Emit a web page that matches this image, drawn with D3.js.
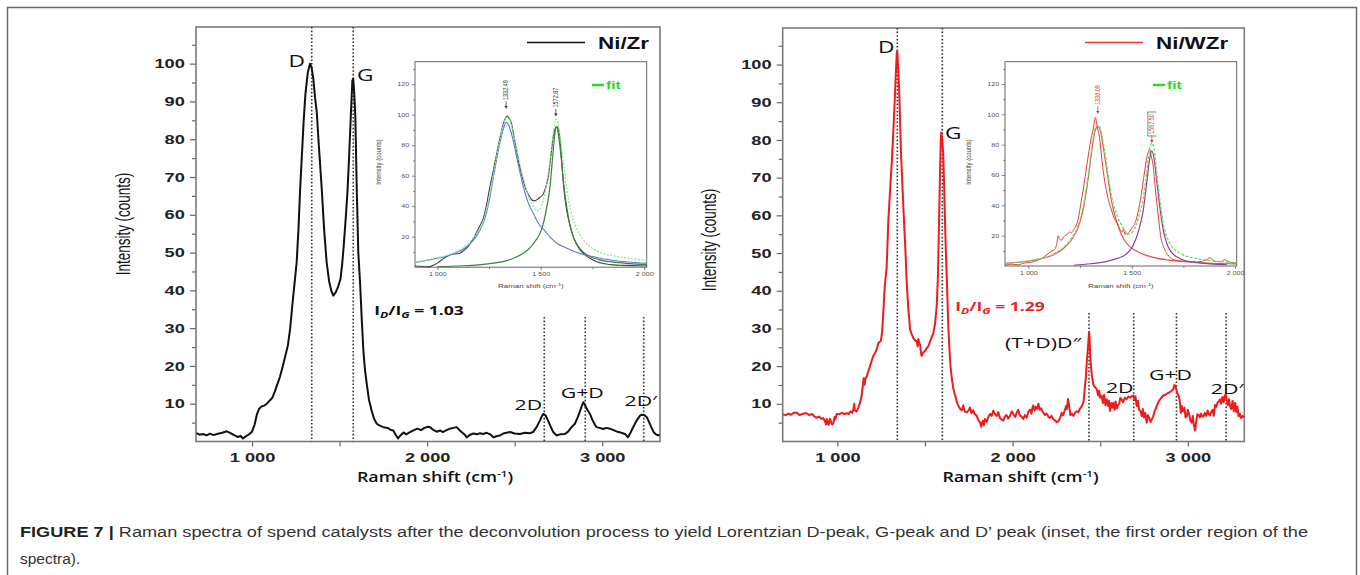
<!DOCTYPE html>
<html>
<head>
<meta charset="utf-8">
<script src="https://cdn.jsdelivr.net/npm/d3@7"></script>
<style>
body { margin: 0; background: #fff; }
svg { display: block; }
</style>
</head>
<body>
<svg id="fig" width="1360" height="575"></svg>
<script>
// Raman spectra: [shift cm-1, intensity counts]
var niZrSpectrum = [[683,2.2],[700,1.8],[720,2.0],[740,1.6],[760,2.1],[780,1.7],[800,2.0],[830,2.3],[855,2.7],[875,2.3],[900,1.6],[920,1.2],[935,1.5],[948,0.8],[962,1.3],[980,1.8],[1000,2.6],[1015,4.5],[1028,7.2],[1040,8.6],[1055,9.3],[1070,9.5],[1085,10.0],[1100,10.8],[1115,11.5],[1130,13.2],[1145,15.2],[1160,17.2],[1175,19.8],[1190,22.6],[1205,25.5],[1218,30],[1230,36],[1243,42],[1255,47.5],[1265,56],[1274,66],[1285,76],[1295,85],[1305,92],[1318,97.5],[1331,100],[1340,99],[1350,96],[1360,91],[1370,87],[1382,78],[1398,67],[1412,56],[1426,47.5],[1440,42.5],[1452,40],[1464,38.6],[1478,39.5],[1492,41],[1505,43],[1515,47],[1524,52],[1535,59],[1545,66],[1555,76],[1565,87],[1573,95.5],[1578,96],[1584,92],[1590,86],[1598,67],[1607,50],[1617,42],[1627,32],[1636,24],[1645,19],[1655,15.3],[1668,11],[1683,8.2],[1697,6],[1712,4.7],[1730,4.2],[1750,3.8],[1775,3.6],[1790,3.1],[1807,2.9],[1820,1.8],[1834,0.8],[1848,1.6],[1865,2.4],[1880,1.9],[1902,2.5],[1925,3.0],[1945,3.4],[1965,3.0],[1985,3.6],[2005,3.9],[2016,3.8],[2035,3.1],[2055,2.6],[2075,2.9],[2090,2.5],[2110,3.0],[2130,3.4],[2150,3.6],[2169,3.8],[2185,3.0],[2200,2.4],[2215,1.8],[2226,1.1],[2245,1.8],[2265,2.1],[2285,1.9],[2302,2.2],[2320,2.0],[2340,2.3],[2360,1.9],[2378,1.1],[2395,1.4],[2416,1.6],[2440,2.2],[2460,2.4],[2473,2.5],[2500,2.1],[2530,2.0],[2560,2.3],[2587,2.2],[2605,2.5],[2625,3.8],[2645,5.6],[2656,6.8],[2664,7.3],[2675,7.0],[2690,5.6],[2705,4.0],[2720,2.5],[2740,1.6],[2760,1.9],[2787,2.0],[2805,2.6],[2825,3.8],[2844,4.7],[2860,6.4],[2875,8.3],[2885,9.6],[2892,10.4],[2902,9.6],[2915,8.4],[2930,7.3],[2945,5.6],[2960,4.3],[2968,3.8],[2985,3.6],[3005,3.3],[3025,3.6],[3044,3.4],[3065,3.0],[3085,2.6],[3105,2.4],[3130,2.0],[3147,1.1],[3160,2.2],[3175,3.6],[3187,4.7],[3200,5.8],[3215,6.8],[3225,7.1],[3240,7.0],[3255,6.4],[3265,5.4],[3280,3.8],[3295,2.4],[3310,1.8],[3328,1.6]];

var niWZrSpectrum = [[690,7.2],[705,7.0],[720,7.4],[735,7.1],[750,7.6],[768,7.6],[785,7.0],[800,7.3],[815,7.5],[825,7.5],[840,7.0],[855,7.3],[870,6.6],[882,6.3],[895,6.6],[910,6.0],[920,6.2],[930,5.3],[935,4.5],[939,6.0],[945,5.1],[950,4.4],[958,6.0],[965,5.0],[971,4.5],[977,4.8],[984,6.5],[990,6.0],[996,7.3],[1010,7.2],[1025,7.6],[1040,7.3],[1053,7.5],[1065,7.3],[1075,8.0],[1085,7.6],[1091,8.5],[1096,10.0],[1100,8.2],[1110,8.0],[1120,9.0],[1129,10.3],[1138,12.0],[1145,14.8],[1150,16.8],[1155,15.0],[1162,17.0],[1167,17.2],[1176,18.5],[1186,20],[1196,21.5],[1205,22.7],[1215,23.5],[1224,24.4],[1233,26.0],[1240,26.4],[1248,26.6],[1255,29],[1262,34],[1270,41],[1281,46],[1291,58.8],[1300,66],[1310,73.8],[1318,81],[1325,88],[1333,97],[1339,103],[1342,103.5],[1347,99],[1352,94],[1358,85],[1363,76.6],[1372,67],[1380,58.8],[1388,51],[1395,43],[1405,35],[1415,29.7],[1424,28.5],[1433,27.5],[1443,26.8],[1453,26.6],[1458,25.2],[1462,27.2],[1468,26.0],[1472,25.7],[1477,23.5],[1481,22.7],[1490,23.6],[1500,24],[1510,24.8],[1519,25.3],[1533,27],[1548,28.8],[1558,31.5],[1567,36],[1574,44],[1580,58],[1586,72],[1590,80],[1593,82],[1598,80],[1604,76.6],[1609,68],[1614,58.8],[1620,49],[1624,43.8],[1633,30.7],[1640,24],[1647,19.3],[1655,16],[1662,14],[1668,12.8],[1675,11.8],[1681,10.5],[1690,9.5],[1700,8.7],[1710,8.3],[1718,9.6],[1726,8.0],[1738,7.7],[1748,8.2],[1757,9.0],[1765,7.5],[1775,8.3],[1785,7.2],[1795,6.8],[1805,5.6],[1815,5.0],[1820,3.9],[1824,4.6],[1830,5.5],[1836,4.3],[1843,6.0],[1852,5.2],[1860,6.4],[1871,7.3],[1880,6.8],[1890,8.2],[1898,7.4],[1909,6.8],[1918,7.8],[1928,6.2],[1938,5.8],[1947,5.5],[1955,6.6],[1965,7.0],[1975,6.1],[1985,6.8],[1995,8.0],[2005,7.2],[2015,6.5],[2023,7.6],[2032,8.4],[2040,7.0],[2050,6.6],[2061,6.0],[2070,7.0],[2080,6.3],[2090,7.9],[2099,8.5],[2108,7.4],[2113,9.0],[2118,9.6],[2125,8.2],[2133,9.2],[2140,8.6],[2147,10.0],[2155,8.4],[2163,8.8],[2175,7.6],[2185,7.0],[2195,7.4],[2205,6.5],[2213,6.3],[2222,6.8],[2232,5.9],[2242,5.6],[2252,5.1],[2262,5.4],[2272,6.4],[2280,7.6],[2288,7.0],[2298,8.3],[2305,9.4],[2310,8.6],[2316,11.3],[2322,9.5],[2330,7.0],[2338,7.4],[2347,6.8],[2356,7.6],[2366,8.0],[2375,7.8],[2385,8.8],[2395,9.4],[2405,10.6],[2413,14.8],[2418,17],[2423,21],[2430,25],[2436,29],[2439,27.5],[2443,23],[2447,20],[2453,17.2],[2460,15.2],[2470,14.4],[2480,13.9],[2488,12.2],[2494,13.5],[2500,11.6],[2508,12.1],[2515,10.2],[2522,12.4],[2530,9.6],[2537,11.2],[2545,9.4],[2550,10.8],[2556,8.1],[2563,10.2],[2570,9.0],[2575,10.3],[2582,8.4],[2588,10.6],[2594,8.8],[2600,9.6],[2608,10.0],[2615,11.6],[2622,11.2],[2630,10.4],[2640,11.6],[2650,11.2],[2660,11.9],[2670,11.6],[2680,12.0],[2689,12.2],[2695,11.0],[2701,12.0],[2708,9.4],[2715,10.8],[2722,8.4],[2730,8.0],[2737,6.7],[2743,8.6],[2750,6.4],[2757,7.6],[2765,5.0],[2772,7.0],[2780,6.2],[2787,5.2],[2794,5.8],[2802,6.6],[2810,8.0],[2822,9.4],[2835,10.8],[2848,11.6],[2860,12.2],[2872,12.4],[2885,12.8],[2898,13.1],[2910,13.6],[2918,14.0],[2923,15.0],[2927,14.8],[2932,14.2],[2938,13.0],[2946,12.2],[2953,11.0],[2960,7.6],[2965,9.4],[2972,8.0],[2980,9.0],[2987,6.4],[2994,6.7],[3000,8.4],[3008,7.0],[3015,5.4],[3022,5.0],[3028,6.8],[3034,4.4],[3041,2.9],[3048,5.4],[3054,7.2],[3060,7.1],[3068,6.4],[3075,7.4],[3082,6.6],[3089,6.7],[3097,7.6],[3105,6.8],[3113,8.2],[3120,7.2],[3127,7.0],[3135,8.0],[3142,8.4],[3148,6.8],[3155,9.7],[3162,9.2],[3170,10.4],[3177,10.6],[3184,11.2],[3190,10.0],[3197,11.8],[3204,10.4],[3210,12.0],[3216,12.6],[3222,11.0],[3228,9.6],[3235,11.2],[3241,9.4],[3248,8.6],[3255,10.8],[3262,8.0],[3270,10.3],[3276,7.8],[3283,9.2],[3289,6.7],[3296,7.4],[3304,6.2],[3312,6.8],[3320,6.4]];

// insets (first order region): measured data and Lorentzian components
var niZrInsetData = [[892,0.8],[920,0.6],[945,0.3],[964,0.4],[985,1.6],[1004,3],[1025,5.2],[1045,7.0],[1061,8],[1080,8.6],[1095,8.8],[1109,9.2],[1125,10.6],[1140,12.4],[1149,13.5],[1165,16.8],[1180,20],[1190,23],[1205,27],[1222,32],[1238,41],[1254,52.7],[1270,63],[1287,74.5],[1303,85],[1319,94],[1330,98],[1338,99],[1348,97.5],[1359,94],[1370,86],[1383,76.7],[1398,66],[1415,57],[1430,50.5],[1447,46],[1460,43.8],[1471,43.5],[1485,44.5],[1498,46],[1512,48],[1525,53],[1536,59],[1548,72],[1560,85],[1570,91],[1579,92],[1586,90],[1592,85],[1600,72],[1608,57],[1616,46],[1625,37.4],[1640,28],[1657,20],[1680,13.5],[1705,9],[1735,6],[1770,3.6],[1810,2.3],[1850,1.5],[1900,1.2],[1950,1.0],[2012,0.8]];
var niZrPeakD = [[892,3],[940,4.2],[990,5.6],[1040,7.2],[1090,9.5],[1130,12.3],[1170,17],[1200,23],[1225,30],[1250,43],[1275,62],[1300,80],[1320,91],[1332,95],[1345,93],[1365,84],[1390,68],[1415,53],[1440,42],[1465,35],[1490,28.5],[1519,24],[1550,19],[1580,15.5],[1608,13.5],[1650,11],[1690,9],[1750,7],[1800,5.5],[1850,4.4],[1920,3.4],[2012,2.6]];
var niZrPeakG = [[1000,0.3],[1100,0.8],[1200,1.5],[1280,2.8],[1340,4.5],[1380,6.5],[1420,9.5],[1450,13],[1475,17.5],[1496,22],[1515,30],[1530,40],[1544,52],[1556,70],[1566,85],[1573,92],[1580,91],[1590,82],[1600,70],[1612,53],[1625,40],[1640,28],[1660,19],[1690,12],[1730,7.5],[1780,5],[1850,3.3],[1930,2.4],[2012,1.8]];
var niZrFit = [[892,3.2],[990,5.9],[1090,10.2],[1170,18.5],[1225,31.5],[1250,45],[1275,64],[1300,82],[1320,94],[1335,98],[1350,96.5],[1370,86],[1395,70],[1420,56],[1445,45],[1465,39.5],[1480,37],[1495,38],[1510,43],[1525,52],[1540,65],[1555,82],[1566,93],[1573,97],[1582,95],[1595,84],[1610,68],[1625,52],[1645,37],[1665,28],[1690,21],[1730,14.5],[1780,10],[1850,7.5],[1930,5.8],[2012,4.4]];

var niWZrInsetData = [[887,0.5],[920,1.2],[950,0.8],[980,2.0],[1010,2.4],[1048,4],[1070,5.5],[1090,7.5],[1110,9.5],[1128,11],[1138,15],[1144,20],[1150,18],[1160,17],[1170,19],[1177,20],[1190,21],[1200,22.5],[1209,22],[1220,24],[1232,27],[1241,31],[1255,42],[1273,57],[1290,73],[1305,85],[1315,91],[1320,96],[1324,98],[1328,96],[1332,92],[1338,89],[1345,84],[1352,75],[1362,63],[1380,48],[1402,37],[1420,30],[1435,27],[1443,24],[1455,22.5],[1460,24.5],[1467,21],[1480,21.5],[1491,23],[1505,26],[1515,28],[1530,35],[1547,47.6],[1560,60],[1571,70],[1580,75],[1587,77],[1595,72],[1603,67],[1615,50],[1627,35],[1640,20],[1659,11],[1680,6.5],[1707,4],[1750,3.2],[1800,2.6],[1836,3],[1860,4],[1880,5.5],[1895,3.5],[1930,2.8],[1950,4.2],[1965,3],[1985,2.2],[2008,2]];
var niWZrPeakD = [[887,1.8],[950,2.5],[1010,3.5],[1070,5],[1120,7.3],[1170,11.5],[1210,17.5],[1240,25],[1265,37],[1290,58],[1310,79],[1325,90],[1336,92],[1348,89],[1365,76],[1385,58],[1402,43],[1430,28],[1460,18],[1490,13],[1527,9.5],[1570,7],[1620,5.2],[1680,3.9],[1760,2.8],[1860,2],[2008,1.4]];
var niWZrPeakG = [[1220,0.5],[1300,1.5],[1380,3],[1430,5],[1470,7.5],[1505,13],[1535,24],[1555,36],[1572,54],[1586,70],[1597,76],[1608,71],[1622,55],[1638,37],[1655,22],[1675,13],[1700,8],[1740,4.5],[1800,2.5],[1880,1.4],[1960,0.9]];
var niWZrFit = [[887,1.8],[1010,3.6],[1120,7.8],[1170,12.3],[1210,18.5],[1240,26.5],[1265,39],[1290,60],[1310,80.5],[1325,91.5],[1336,93],[1348,90.5],[1365,79],[1385,61],[1402,46.5],[1430,33],[1460,25],[1480,21],[1505,22.5],[1535,33],[1555,44],[1572,61],[1586,77],[1597,81],[1608,77],[1622,60.5],[1638,42],[1655,26.5],[1675,17.5],[1700,12],[1740,8],[1800,5.2],[1880,3.5],[2008,2.2]];

// peak positions and names
var niZrPeaks = [1341, 1578, 2669, 2903, 3237];
var niZrPeakNames = ['D', 'G', '2D', 'G+D', '2D\u2032'];
var niWZrPeaks = [1342, 1599, 2436, 2691, 2935, 3218];
var niWZrPeakNames = ['D', 'G', '(T+D)D\u2033', '2D', 'G+D', '2D\u2032'];
var niZrInsetPeaks = [1332.49, 1572.87];
var niWZrInsetPeaks = [1336.09, 1597.50];
var ratioValues = ['1.03', '1.29'];
var seriesNames = ['Ni/Zr', 'Ni/WZr'];

// ticks
var mainXTicks = [1000, 2000, 3000];
var mainXMinor = [1500, 2500];
var mainYTicks = [10, 20, 30, 40, 50, 60, 70, 80, 90, 100];
var mainYMinor = [5, 15, 25, 35, 45, 55, 65, 75, 85, 95, 105];
var insetXTicks = [1000, 1500, 2000];
var insetXMinor = [1250, 1750];
var insetYTicks = [20, 40, 60, 80, 100, 120];
var insetYMinor = [10, 30, 50, 70, 90, 110, 130];

var svg = d3.select('#fig');
var SX = 1.4;
var fmtK = function(d){ return d3.format(',')(d).replace(',', ' '); };

svg.append('rect')
    .attr('x', 7.5).attr('y', 7.5).attr('width', 1349).attr('height', 640)
    .attr('fill', 'none').attr('stroke', '#6b6b6b').attr('stroke-width', 1.5);

// text stretched horizontally, like the original figure
function stext(g, str, x, y, o) {
    o = o || {};
    return g.append('text')
        .attr('transform', 'translate(' + x + ',' + y + ') scale(' + (o.sx || SX) + ',1)')
        .attr('text-anchor', o.anchor || 'middle')
        .attr('font-family', o.font || 'Open Sans, sans-serif')
        .attr('font-size', o.size || 14)
        .attr('font-weight', o.weight || 'normal')
        .attr('fill', o.fill || '#111')
        .text(str);
}

function axisStyle(a, size, sx) {
    a.select('.domain').remove();
    a.selectAll('line').attr('stroke', '#666').attr('stroke-width', 1.2);
    a.selectAll('text')
        .attr('font-family', 'Liberation Sans, Arial, sans-serif')
        .attr('font-size', size)
        .attr('font-weight', size > 8 ? 'bold' : 'normal')
        .attr('fill', size > 8 ? '#222' : '#555')
        .attr('transform', 'scale(' + sx + ',1)');
}

function drawPanel(p) {
    var g = svg.append('g');
    var x = d3.scaleLinear().domain(p.xDomain).range([p.left, p.right]);
    var y = d3.scaleLinear().domain([0, 109.7]).range([p.bottom, p.top]);

    var ya = g.append('g').attr('transform', 'translate(' + p.left + ',0)')
        .call(d3.axisLeft(y).tickValues(mainYTicks).tickSize(6).tickPadding(2));
    axisStyle(ya, 13, SX);
    var ym = g.append('g').attr('transform', 'translate(' + p.left + ',0)')
        .call(d3.axisLeft(y).tickValues(mainYMinor).tickSize(4).tickFormat(''));
    axisStyle(ym, 13, SX);

    var xa = g.append('g').attr('transform', 'translate(0,' + p.bottom + ')')
        .call(d3.axisBottom(x).tickValues(mainXTicks).tickSize(5).tickPadding(6).tickFormat(fmtK));
    axisStyle(xa, 13, SX);
    var xm = g.append('g').attr('transform', 'translate(0,' + p.bottom + ')')
        .call(d3.axisBottom(x).tickValues(mainXMinor).tickSize(5).tickFormat(''));
    axisStyle(xm, 13, SX);

    g.append('rect')
        .attr('x', p.left).attr('y', p.top)
        .attr('width', p.right - p.left).attr('height', p.bottom - p.top)
        .attr('fill', 'none').attr('stroke', '#7a7a7a').attr('stroke-width', 1.6);

    // dotted peak markers
    g.selectAll('.peakline')
        .data(p.peaks)
        .enter()
        .append('line')
        .attr('x1', function(d){ return x(d); })
        .attr('x2', function(d){ return x(d); })
        .attr('y1', function(d, i){ return i < 2 ? p.top : p.secondTop; })
        .attr('y2', p.bottom)
        .attr('stroke', '#333').attr('stroke-width', 1.6)
        .attr('stroke-dasharray', '1.6,2');

    var line = d3.line()
        .x(function(d){ return x(d[0]); })
        .y(function(d){ return y(d[1]); });

    g.append('path')
        .datum(p.data)
        .attr('d', line)
        .attr('fill', 'none')
        .attr('stroke', p.color)
        .attr('stroke-width', 2)
        .attr('stroke-linejoin', 'round');

    p.peakNames.forEach(function(name, i){
        var lab = p.labelPos[i];
        stext(g, name, x(p.peaks[i]) + lab[0], lab[1], {size: lab[2] || 15, sx: 1.42});
    });

    // ratio
    var rt = g.append('text')
        .attr('transform', 'translate(' + p.ratioX + ',' + p.ratioY + ') scale(1.35,1)')
        .attr('text-anchor', 'middle')
        .attr('font-family', 'Open Sans, sans-serif')
        .attr('font-size', 13).attr('font-weight', 'bold')
        .attr('fill', p.ratioColor);
    rt.append('tspan').text('I');
    rt.append('tspan').attr('font-size', 9).attr('font-style', 'italic').attr('dy', 3).text('D');
    rt.append('tspan').attr('dy', -3).text('/I');
    rt.append('tspan').attr('font-size', 9).attr('font-style', 'italic').attr('dy', 3).text('G');
    rt.append('tspan').attr('dy', -3).text(' = ' + p.ratio);

    // axis titles
    var xt = g.append('text')
        .attr('transform', 'translate(' + ((p.left + p.right) / 2 + p.xTitleShift) + ',482) scale(1.28,1)')
        .attr('text-anchor', 'middle')
        .attr('font-family', 'Open Sans, sans-serif')
        .attr('font-size', 14).attr('font-weight', 600).attr('fill', '#111');
    xt.append('tspan').text('Raman shift (cm');
    xt.append('tspan').attr('font-size', 9).attr('dy', -5).text('-1');
    xt.append('tspan').attr('dy', 5).text(')');

    g.append('text')
        .attr('transform', 'translate(' + p.yTitleX + ',' + p.yTitleY + ') scale(1.45,1) rotate(-90)')
        .attr('text-anchor', 'middle')
        .attr('font-family', 'Liberation Sans, Arial, sans-serif')
        .attr('font-size', 13.5).attr('fill', '#111')
        .text('Intensity (counts)');

    // legend
    g.append('line')
        .attr('x1', p.legendX).attr('x2', p.legendX + 58)
        .attr('y1', 42.5).attr('y2', 42.5)
        .attr('stroke', p.legendColor).attr('stroke-width', p.legendWidth);
    stext(g, p.name, p.legendX + 71, 48.5, {size: 16, weight: 'bold', anchor: 'start', font: 'Liberation Sans, Arial, sans-serif', fill: '#111'});

    drawInset(p.inset);
}

function drawInset(q) {
    var g = svg.append('g');
    var x = d3.scaleLinear().domain(q.xDomain).range([q.left, q.right]);
    var y = d3.scaleLinear().domain([0, 134.7]).range([q.bottom, q.top]);

    g.append('rect')
        .attr('x', q.left).attr('y', q.top)
        .attr('width', q.right - q.left).attr('height', q.bottom - q.top)
        .attr('fill', '#fff');

    var ya = g.append('g').attr('transform', 'translate(' + q.left + ',0)')
        .call(d3.axisLeft(y).tickValues(insetYTicks).tickSize(3).tickPadding(1.5));
    axisStyle(ya, 5.5, 1.3);
    var ym = g.append('g').attr('transform', 'translate(' + q.left + ',0)')
        .call(d3.axisLeft(y).tickValues(insetYMinor).tickSize(2).tickFormat(''));
    axisStyle(ym, 5.5, 1.3);
    var xa = g.append('g').attr('transform', 'translate(0,' + q.bottom + ')')
        .call(d3.axisBottom(x).tickValues(insetXTicks).tickSize(3).tickPadding(2).tickFormat(fmtK));
    axisStyle(xa, 5.5, 1.3);
    var xm = g.append('g').attr('transform', 'translate(0,' + q.bottom + ')')
        .call(d3.axisBottom(x).tickValues(insetXMinor).tickSize(2).tickFormat(''));
    axisStyle(xm, 5.5, 1.3);
    g.selectAll('line').attr('stroke-width', 0.8);

    g.append('rect')
        .attr('x', q.left).attr('y', q.top)
        .attr('width', q.right - q.left).attr('height', q.bottom - q.top)
        .attr('fill', 'none').attr('stroke', '#666').attr('stroke-width', 1);

    var line = d3.line()
        .curve(d3.curveMonotoneX)
        .x(function(d){ return x(d[0]); })
        .y(function(d){ return y(d[1]); });

    q.curves.forEach(function(c){
        g.append('path')
            .datum(c.data)
            .attr('d', line)
            .attr('fill', 'none')
            .attr('stroke', c.color)
            .attr('stroke-width', c.width)
            .attr('stroke-dasharray', c.dash || null);
    });

    // peak position labels with arrows
    q.peaks.forEach(function(pk, i){
        var px = x(pk);
        var tip = q.arrowTip[i];
        g.append('text')
            .attr('transform', 'translate(' + (px + 1.8) + ',' + (tip - 9) + ') scale(1.25,1) rotate(-90)')
            .attr('text-anchor', 'start')
            .attr('font-family', 'Liberation Sans, Arial, sans-serif')
            .attr('font-size', 5.5).attr('fill', q.peakColor)
            .text(d3.format('.2f')(pk));
        g.append('line')
            .attr('x1', px).attr('x2', px).attr('y1', tip - 7.5).attr('y2', tip - 2)
            .attr('stroke', q.peakColor).attr('stroke-width', 0.8);
        g.append('path')
            .attr('d', 'M' + (px - 1.6) + ',' + (tip - 3) + 'L' + (px + 1.6) + ',' + (tip - 3) + 'L' + px + ',' + tip + 'Z')
            .attr('fill', q.peakColor);
    });

    if (q.boxPeak != null) {
        var bx = x(q.peaks[q.boxPeak]);
        var by0 = q.arrowTip[q.boxPeak] - 31, by1 = q.arrowTip[q.boxPeak] - 7;
        g.append('path')
            .attr('d', 'M' + (bx - 4.5) + ',' + by0 + 'H' + (bx + 4.5) + 'M' + (bx - 4.5) + ',' + by1 + 'H' + (bx + 4.5) +
                'M' + (bx - 4) + ',' + by0 + 'V' + by1)
            .attr('fill', 'none').attr('stroke', '#3a9a9a').attr('stroke-width', 0.9);
    }

    // fit legend
    g.append('line')
        .attr('x1', q.fitX).attr('x2', q.fitX + 12)
        .attr('y1', 85).attr('y2', 85)
        .attr('stroke', '#22dd22').attr('stroke-width', 2.5);
    stext(g, 'fit', q.fitX + 14, 88.5, {size: 11, weight: 'bold', anchor: 'start', fill: '#22dd22', font: 'Liberation Sans, Arial, sans-serif', sx: 1.4});

    var xt = g.append('text')
        .attr('transform', 'translate(' + ((q.left + q.right) / 2) + ',288) scale(1.45,1)')
        .attr('text-anchor', 'middle')
        .attr('font-family', 'Liberation Sans, Arial, sans-serif')
        .attr('font-size', 5.5).attr('fill', '#444');
    xt.append('tspan').text('Raman shift (cm');
    xt.append('tspan').attr('font-size', 4).attr('dy', -2).text('-1');
    xt.append('tspan').attr('dy', 2).text(')');

    g.append('text')
        .attr('transform', 'translate(' + (q.left - 37) + ',162) scale(1.3,1) rotate(-90)')
        .attr('text-anchor', 'middle')
        .attr('dominant-baseline', 'central')
        .attr('font-family', 'Liberation Sans, Arial, sans-serif')
        .attr('font-size', 6).attr('fill', '#444')
        .text('Intensity (counts)');
}

drawPanel({
    name: seriesNames[0], data: niZrSpectrum, color: '#111',
    xDomain: [680, 3330], left: 196, right: 660, top: 27, bottom: 441.5, secondTop: 317,
    peaks: niZrPeaks, peakNames: niZrPeakNames,
    labelPos: [[-15, 67, 16], [12, 81, 16], [-16, 410], [-3, 398], [-3, 406]],
    ratio: ratioValues[0], ratioX: 419, ratioY: 315, ratioColor: '#111',
    xTitleShift: 7, yTitleX: 130, yTitleY: 224,
    legendX: 527, legendColor: '#111', legendWidth: 1.6,
    inset: {
        xDomain: [892, 2012], left: 415, right: 646.7, top: 61.7, bottom: 267.2,
        curves: [
            {data: niZrInsetData, color: '#444', width: 1.1},
            {data: niZrPeakD, color: '#5a78d8', width: 1.1},
            {data: niZrPeakG, color: '#3d7d3d', width: 1.2},
            {data: niZrFit, color: '#8be88b', width: 1.3, dash: '2,1.5'}
        ],
        peaks: niZrInsetPeaks, arrowTip: [109, 116.5], peakColor: '#333', boxPeak: null,
        fitX: 592
    }
});

drawPanel({
    name: seriesNames[1], data: niWZrSpectrum, color: '#ee1c1c',
    xDomain: [688, 3322], left: 782.7, right: 1244.3, top: 28, bottom: 441.5, secondTop: 313,
    peaks: niWZrPeaks, peakNames: niWZrPeakNames,
    labelPos: [[-11, 53, 16], [11, 139, 16], [-46, 348], [-14, 393], [-6, 380], [1, 394]],
    ratio: ratioValues[1], ratioX: 1000, ratioY: 311, ratioColor: '#ee2222',
    xTitleShift: 7, yTitleX: 716, yTitleY: 240,
    legendX: 1085, legendColor: '#ee3333', legendWidth: 1.4,
    inset: {
        xDomain: [887, 2008], left: 1005, right: 1236.7, top: 61.7, bottom: 266,
        curves: [
            {data: niWZrInsetData, color: '#ee3a3a', width: 1},
            {data: niWZrPeakD, color: '#e84a4a', width: 1.1},
            {data: niWZrPeakG, color: '#8c3f9c', width: 1.2},
            {data: niWZrFit, color: '#66dd66', width: 1.3, dash: '3,1.5'}
        ],
        peaks: niWZrInsetPeaks, arrowTip: [114, 143], peakColor: '#e83030', boxPeak: 1,
        fitX: 1153
    }
});

// caption
var cap = svg.append('text')
    .attr('x', 20).attr('y', 537)
    .attr('font-family', 'Liberation Sans Narrow, Arial Narrow, Liberation Sans, sans-serif')
    .attr('font-size', 15.5).attr('fill', '#333')
    .attr('textLength', 1288).attr('lengthAdjust', 'spacingAndGlyphs');
cap.append('tspan').attr('font-weight', 'bold').attr('fill', '#231f20').text('FIGURE 7 | ');
cap.append('tspan').text('Raman spectra of spend catalysts after the deconvolution process to yield Lorentzian D-peak, G-peak and D\u2019 peak (inset, the first order region of the');

svg.append('text')
    .attr('x', 20).attr('y', 564)
    .attr('font-family', 'Liberation Sans Narrow, Arial Narrow, Liberation Sans, sans-serif')
    .attr('font-size', 15.5).attr('fill', '#333')
    .text('spectra).');
</script>
</body>
</html>
